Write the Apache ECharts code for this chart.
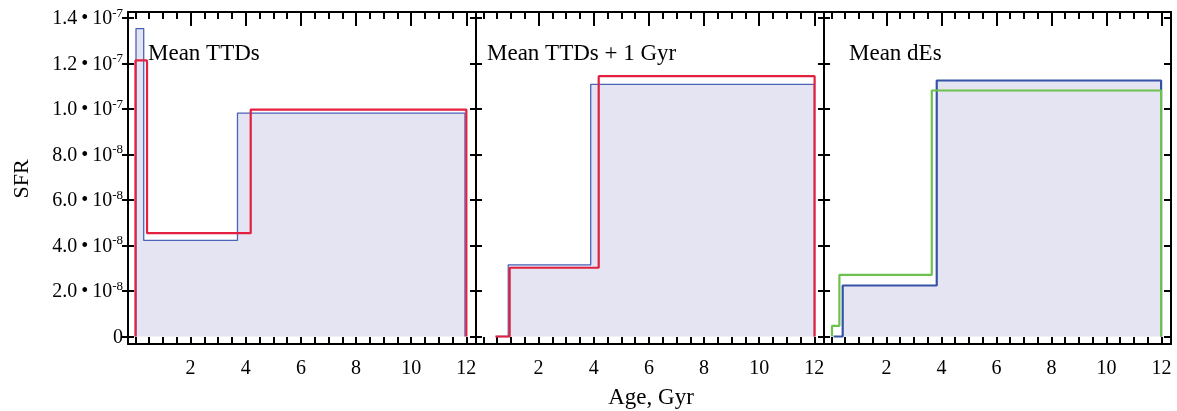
<!DOCTYPE html>
<html>
<head>
<meta charset="utf-8">
<script src="https://cdn.jsdelivr.net/npm/echarts@6/dist/echarts.min.js"></script>
<style>
html,body{margin:0;padding:0;background:#fff;}
#chart{width:1177px;height:411px;}
</style>
</head>
<body>
<div id="chart"></div>
<script>
// ---- data ----
const panelTitles = ['Mean TTDs', 'Mean TTDs + 1 Gyr', 'Mean dEs'];
const xLabelTicks = [2, 4, 6, 8, 10, 12];
const xMinorTicks = [0,0.5,1,1.5,2,2.5,3,3.5,4,4.5,5,5.5,6,6.5,7,7.5,8,8.5,9,9.5,10,10.5,11,11.5,12];
const yTicks = [0, 2e-8, 4e-8, 6e-8, 8e-8, 1.0e-7, 1.2e-7, 1.4e-7];

// panel 1 : Mean TTDs
const p1BlueEdges  = [0.02, 0.30, 3.70, 11.95];
const p1BlueValues = [1.353e-7, 4.22e-8, 9.82e-8];
const p1RedEdges   = [0.00, 0.42, 4.18, 12.00];
const p1RedValues  = [1.213e-7, 4.54e-8, 9.97e-8];
// panel 2 : Mean TTDs + 1 Gyr
const p2BlueEdges  = [0.44, 0.90, 3.89, 12.00];
const p2BlueValues = [0, 3.15e-8, 1.108e-7];
const p2RedEdges   = [0.44, 0.95, 4.18, 12.01];
const p2RedValues  = [0, 3.02e-8, 1.144e-7];
// panel 3 : Mean dEs
const p3BlueEdges   = [0.08, 0.41, 3.83, 11.99];
const p3BlueValues  = [0, 2.24e-8, 1.125e-7];
const p3GreenEdges  = [0.02, 0.29, 3.65, 11.99];
const p3GreenValues = [4.7e-9, 2.71e-8, 1.081e-7];

// ---- layout ----
const FONT = '"Liberation Serif", "Times New Roman", serif';
const xMin = -0.27, xMax = 12.35;
const yMin = -3.3e-9, yMax = 1.426e-7;
const panels = [{left:128, width:348}, {left:476, width:348}, {left:824, width:347}];
const gridTop = 12, gridHeight = 332;

function stepPts(edges, values) {
  const pts = [[edges[0], 0]];
  for (let i = 0; i < values.length; i++) {
    pts.push([edges[i], values[i]]);
    pts.push([edges[i + 1], values[i]]);
  }
  pts.push([edges[edges.length - 1], 0]);
  return pts;
}

function yFmt(v) {
  if (Math.abs(v) < 1e-15) return '{b|0}';
  const e = Math.floor(Math.log10(v) + 1e-9);
  const m = (v / Math.pow(10, e)).toFixed(1);
  return '{b|' + m + '\u2009\u2022\u200910}{s|' + e + '}';
}

const grids = [], xAxes = [], yAxes = [];
const lineC = '#000';
const mainX = [], mainY = [];
const tick = (o) => Object.assign({show:true, lineStyle:{color:lineC, width:2}}, o);
const visLine = {show:true, onZero:false, lineStyle:{color:lineC, width:2}};
const noLine = {show:false, onZero:false};

panels.forEach((p, i) => {
  // main grid
  const g = grids.length;
  grids.push({left: p.left, width: p.width, top: gridTop, height: gridHeight, containLabel: false});
  mainX.push(xAxes.length);
  xAxes.push({type:'value', gridIndex:g, position:'bottom', min:xMin, max:xMax,
    axisLine:visLine,
    axisTick:tick({inside:true, length:7, customValues:xMinorTicks}),
    axisLabel:{show:true, customValues:xLabelTicks, margin:15, color:'#000', fontFamily:FONT, fontSize:20},
    splitLine:{show:false}});
  xAxes.push({type:'value', gridIndex:g, position:'top', min:xMin, max:xMax,
    axisLine:visLine,
    axisTick:tick({inside:true, length:7, customValues:xMinorTicks}),
    axisLabel:{show:false}, splitLine:{show:false}});
  mainY.push(yAxes.length);
  yAxes.push({type:'value', gridIndex:g, position:'left', min:yMin, max:yMax,
    axisLine:visLine,
    axisTick:tick({inside:false, length:6, customValues:yTicks}),
    axisLabel:{show:i === 0, customValues:yTicks, margin:5, formatter:yFmt,
      rich:{b:{fontFamily:FONT, fontSize:20, lineHeight:22, color:'#000', verticalAlign:'bottom'},
            s:{fontFamily:FONT, fontSize:13, lineHeight:13, color:'#000', verticalAlign:'top'}}},
    splitLine:{show:false}});
  if (i === panels.length - 1) {
    yAxes.push({type:'value', gridIndex:g, position:'right', min:yMin, max:yMax,
      axisLine:visLine,
      axisTick:tick({inside:true, length:7, customValues:yTicks}),
      axisLabel:{show:false}, splitLine:{show:false}});
  }
  // overlay grid for major top ticks and inside left ticks
  const h = grids.length;
  grids.push({left: p.left, width: p.width, top: gridTop, height: gridHeight, containLabel: false});
  xAxes.push({type:'value', gridIndex:h, position:'top', min:xMin, max:xMax,
    axisLine:noLine,
    axisTick:tick({inside:true, length:14, customValues:xLabelTicks}),
    axisLabel:{show:false}, splitLine:{show:false}});
  yAxes.push({type:'value', gridIndex:h, position:'left', min:yMin, max:yMax,
    axisLine:noLine,
    axisTick:tick({inside:true, length:6, customValues:yTicks}),
    axisLabel:{show:false}, splitLine:{show:false}});
});

function ser(panel, pts, color, width, fill, z) {
  const s = {type:'line', xAxisIndex: mainX[panel], yAxisIndex: mainY[panel], data: pts,
    showSymbol:false, symbol:'none', animation:false, clip:true, z: z,
    lineStyle:{color: color, width: width}, silent:true};
  if (fill) s.areaStyle = {color: fill, opacity: 1, origin: 0};
  return s;
}

const FILL = '#e4e4f2';
const series = [
  ser(0, stepPts(p1BlueEdges, p1BlueValues), '#4a63b8', 1.3, FILL, 2),
  ser(0, stepPts(p1RedEdges, p1RedValues), '#e3203f', 2.2, null, 3),
  ser(1, stepPts(p2BlueEdges, p2BlueValues), '#4a63b8', 1.3, FILL, 2),
  ser(1, stepPts(p2RedEdges, p2RedValues), '#e3203f', 2.2, null, 3),
  ser(2, stepPts(p3BlueEdges, p3BlueValues), '#3652a8', 2.2, FILL, 2),
  ser(2, stepPts(p3GreenEdges, p3GreenValues), '#6cc24c', 2.2, null, 3)
];

const titleX = [148, 487, 849];
const graphic = panelTitles.map((t, i) => ({
  type:'text', x: titleX[i], y: 54, z: 10,
  style:{text: t, font: '23px ' + FONT, fill:'#000', align:'left', verticalAlign:'middle'}
}));
graphic.push({type:'text', x: 651, y: 398, z: 10,
  style:{text:'Age, Gyr', font:'23px ' + FONT, fill:'#000', align:'center', verticalAlign:'middle'}});
graphic.push({type:'text', x: 22, y: 179, rotation: Math.PI / 2, z: 10,
  style:{text:'SFR', font:'22px ' + FONT, fill:'#000', align:'center', verticalAlign:'middle'}});

const chart = echarts.init(document.getElementById('chart'), null, {renderer:'canvas'});
chart.setOption({
  backgroundColor:'#fff',
  animation:false,
  grid: grids, xAxis: xAxes, yAxis: yAxes, series: series, graphic: graphic
});
</script>
</body>
</html>
